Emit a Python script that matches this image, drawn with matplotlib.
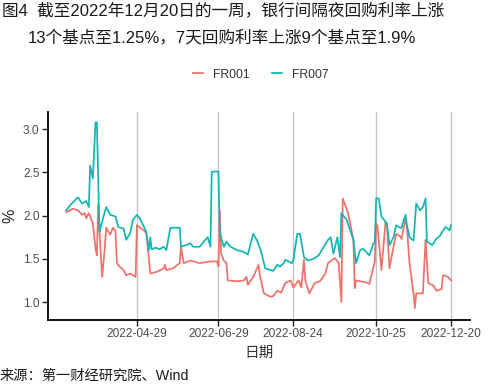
import pandas as pd
import numpy as np
import matplotlib.pyplot as plt
import matplotlib.dates as mdates

plt.rcParams['font.family'] = ['Liberation Sans', 'Noto Sans CJK SC', 'DejaVu Sans']

# FR007 (7天回购利率)
fr007_dates = ["2022-03-07", "2022-03-10", "2022-03-15", "2022-03-16", "2022-03-19", "2022-03-22",
               "2022-03-24", "2022-03-25", "2022-03-27", "2022-03-29", "2022-03-30", "2022-04-01",
               "2022-04-04", "2022-04-06", "2022-04-09", "2022-04-13", "2022-04-15", "2022-04-19",
               "2022-04-21", "2022-04-24", "2022-04-26", "2022-04-29", "2022-05-01", "2022-05-04",
               "2022-05-06", "2022-05-08", "2022-05-09", "2022-05-10", "2022-05-13", "2022-05-16",
               "2022-05-19", "2022-05-21", "2022-05-24", "2022-05-31", "2022-06-01", "2022-06-05",
               "2022-06-08", "2022-06-10", "2022-06-15", "2022-06-18", "2022-06-21", "2022-06-23",
               "2022-06-24", "2022-06-29", "2022-06-30", "2022-07-03", "2022-07-05", "2022-07-08",
               "2022-07-13", "2022-07-18", "2022-07-21", "2022-07-25", "2022-07-28", "2022-07-31",
               "2022-08-03", "2022-08-07", "2022-08-09", "2022-08-12", "2022-08-14", "2022-08-17",
               "2022-08-18", "2022-08-23", "2022-08-24", "2022-08-27", "2022-08-29", "2022-09-01",
               "2022-09-04", "2022-09-08", "2022-09-12", "2022-09-15", "2022-09-19", "2022-09-21",
               "2022-09-23", "2022-09-26", "2022-09-28", "2022-09-29", "2022-10-03", "2022-10-08",
               "2022-10-10", "2022-10-13", "2022-10-15", "2022-10-20", "2022-10-23", "2022-10-24",
               "2022-10-25", "2022-10-27", "2022-10-29", "2022-11-02", "2022-11-04", "2022-11-07",
               "2022-11-09", "2022-11-12", "2022-11-13", "2022-11-16", "2022-11-17", "2022-11-19",
               "2022-11-22", "2022-11-24", "2022-11-27", "2022-11-29", "2022-12-01", "2022-12-02",
               "2022-12-06", "2022-12-09", "2022-12-12", "2022-12-13", "2022-12-16", "2022-12-19",
               "2022-12-20"]
fr007 = [2.06, 2.12, 2.20, 2.21, 2.14, 2.17,
         2.10, 2.58, 2.43, 3.08, 3.08, 1.81,
         1.99, 2.10, 2.01, 1.99, 1.87, 1.85,
         1.72, 1.80, 1.95, 2.01, 1.97, 1.88,
         1.81, 1.60, 1.75, 1.61, 1.63, 1.61,
         1.64, 1.60, 1.86, 1.86, 1.64, 1.66,
         1.68, 1.64, 1.64, 1.70, 1.75, 1.64,
         2.51, 2.51, 1.80, 1.64, 1.70, 1.64,
         1.60, 1.58, 1.55, 1.79, 1.71, 1.58,
         1.39, 1.37, 1.36, 1.43, 1.41, 1.45,
         1.49, 1.45, 1.48, 1.79, 1.79, 1.52,
         1.48, 1.50, 1.54, 1.62, 1.72, 1.75,
         1.56, 1.75, 1.52, 2.03, 1.95, 1.72,
         1.45, 1.60, 1.62, 1.54, 1.68, 1.68,
         2.20, 2.20, 1.99, 1.91, 1.66, 1.75,
         1.89, 1.86, 1.86, 2.01, 1.89, 1.75,
         1.71, 2.14, 2.06, 2.10, 2.20, 1.70,
         1.66, 1.73, 1.77, 1.80, 1.87, 1.83,
         1.89]

# FR001 (隔夜回购利率)
fr001_dates = ["2022-03-07", "2022-03-12", "2022-03-16", "2022-03-19", "2022-03-21", "2022-03-22",
               "2022-03-24", "2022-03-27", "2022-03-29", "2022-03-30", "2022-03-31", "2022-04-01",
               "2022-04-03", "2022-04-05", "2022-04-06", "2022-04-09", "2022-04-11", "2022-04-13",
               "2022-04-14", "2022-04-16", "2022-04-19", "2022-04-21", "2022-04-24", "2022-04-26",
               "2022-04-28", "2022-04-29", "2022-05-04", "2022-05-06", "2022-05-09", "2022-05-14",
               "2022-05-19", "2022-05-20", "2022-05-21", "2022-05-26", "2022-05-31", "2022-06-01",
               "2022-06-03", "2022-06-08", "2022-06-15", "2022-06-23", "2022-06-28", "2022-06-29",
               "2022-06-30", "2022-07-01", "2022-07-03", "2022-07-05", "2022-07-06", "2022-07-13",
               "2022-07-18", "2022-07-20", "2022-07-21", "2022-07-25", "2022-07-29", "2022-07-30",
               "2022-08-02", "2022-08-07", "2022-08-09", "2022-08-12", "2022-08-15", "2022-08-18",
               "2022-08-22", "2022-08-24", "2022-08-28", "2022-08-30", "2022-09-01", "2022-09-02",
               "2022-09-05", "2022-09-09", "2022-09-13", "2022-09-17", "2022-09-19", "2022-09-24",
               "2022-09-27", "2022-09-29", "2022-09-30", "2022-10-04", "2022-10-08", "2022-10-09",
               "2022-10-10", "2022-10-13", "2022-10-17", "2022-10-20", "2022-10-24", "2022-10-25",
               "2022-10-26", "2022-10-29", "2022-11-01", "2022-11-02", "2022-11-04", "2022-11-07",
               "2022-11-09", "2022-11-12", "2022-11-13", "2022-11-16", "2022-11-17", "2022-11-19",
               "2022-11-22", "2022-11-23", "2022-11-24", "2022-11-29", "2022-12-01", "2022-12-03",
               "2022-12-07", "2022-12-09", "2022-12-13", "2022-12-14", "2022-12-18", "2022-12-20"]
fr001 = [2.04, 2.08, 2.06, 2.01, 2.03, 1.97,
         2.03, 1.91, 1.62, 1.54, 2.14, 1.80,
         1.29, 1.64, 1.86, 1.78, 1.86, 1.82,
         1.45, 1.41, 1.37, 1.31, 1.33, 1.31,
         1.29, 1.89, 1.83, 1.80, 1.33, 1.35,
         1.39, 1.43, 1.37, 1.39, 1.45, 1.64,
         1.45, 1.48, 1.45, 1.47, 1.47, 1.41,
         2.06, 1.56, 1.48, 1.45, 1.25, 1.24,
         1.25, 1.29, 1.20, 1.29, 1.43, 1.31,
         1.10, 1.06, 1.07, 1.13, 1.11, 1.22,
         1.25, 1.17, 1.25, 1.17, 1.49, 1.25,
         1.10, 1.22, 1.24, 1.33, 1.45, 1.51,
         1.45, 1.00, 2.20, 2.03, 1.72, 1.16,
         1.25, 1.24, 1.23, 1.21, 1.47, 1.91,
         1.88, 1.37, 1.93, 1.91, 1.39, 1.64,
         1.79, 1.76, 1.73, 1.97, 1.87, 1.45,
         1.10, 0.93, 1.10, 1.10, 1.72, 1.22,
         1.19, 1.13, 1.15, 1.31, 1.29, 1.25]

tick_dates = ["2022-04-29", "2022-06-29", "2022-08-24", "2022-10-25", "2022-12-20"]

red = "#F0706A"
teal = "#12B5B5"

fig = plt.figure(figsize=(4.99, 3.89), dpi=100)
ax = fig.add_axes([0.096, 0.177, 0.846, 0.535])

ax.plot(pd.to_datetime(fr001_dates), fr001, color=red, lw=1.25, label="FR001")
ax.plot(pd.to_datetime(fr007_dates), fr007, color=teal, lw=1.25, label="FR007")

ticks = pd.to_datetime(tick_dates)
ax.set_xticks(ticks)
ax.set_xticklabels(tick_dates)
ax.set_xlim(pd.Timestamp("2022-02-21 09:00"), pd.Timestamp("2023-01-03 07:00"))
ax.set_ylim(0.79, 3.20)
ax.set_yticks([1.0, 1.5, 2.0, 2.5, 3.0])
ax.set_yticklabels(["1.0", "1.5", "2.0", "2.5", "3.0"])
ax.grid(axis="x", color="#C4C4C4", lw=1.0)
ax.set_axisbelow(True)

for s in ["top", "right"]:
    ax.spines[s].set_visible(False)
for s in ["left", "bottom"]:
    ax.spines[s].set_linewidth(1.4)
    ax.spines[s].set_color("#111111")
ax.tick_params(axis="both", length=4, width=1.0, color="#222222",
               labelsize=8.6, labelcolor="#4D4D4D", pad=2)

ax.set_ylabel("%", fontsize=11.5, color="#222222", labelpad=4)
ax.set_xlabel("日期", fontsize=10.5, color="#333333", labelpad=4,
              family=["Noto Sans CJK SC", "DejaVu Sans"])

leg = fig.legend(loc="center", bbox_to_anchor=(0.523, 0.808), ncol=2, frameon=False,
                 fontsize=8.7, handlelength=0.8, handletextpad=0.9, columnspacing=1.8)
for t in leg.get_texts():
    t.set_color("#333333")

title_font = ["Liberation Sans", "Noto Sans CJK SC", "DejaVu Sans"]
fig.text(0.004, 0.972, "图4  截至2022年12月20日的一周，银行间隔夜回购利率上涨",
         fontsize=12, color="#1A1A1A", va="center", ha="left", family=title_font)
fig.text(0.056, 0.902, "13个基点至1.25%，7天回购利率上涨9个基点至1.9%",
         fontsize=12, color="#1A1A1A", va="center", ha="left", family=title_font)
fig.text(0.0, 0.034, "来源：第一财经研究院、Wind", fontsize=10.3, color="#1A1A1A",
         va="center", ha="left", family=title_font)

fig.savefig("out.png", dpi=100)
